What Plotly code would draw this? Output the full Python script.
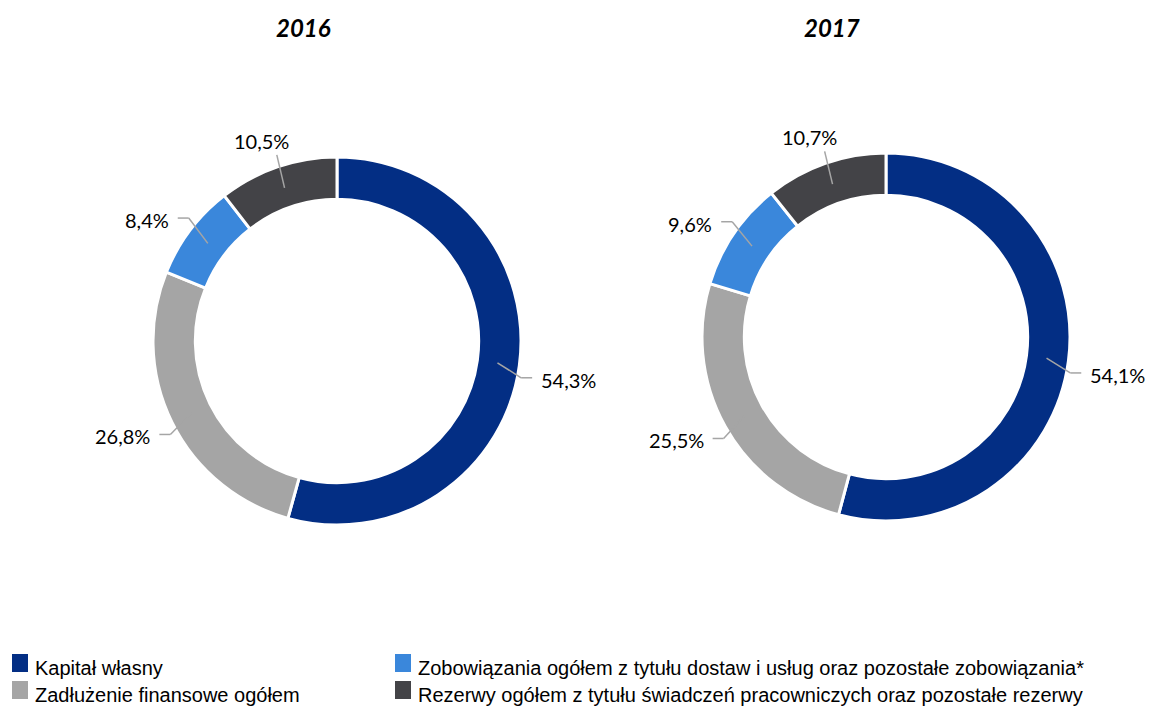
import math
import plotly.graph_objects as go

# Structure of financing (share of the balance sheet total, %)
categories = [
    "Kapitał własny",
    "Zadłużenie finansowe ogółem",
    "Zobowiązania ogółem z tytułu dostaw i usług oraz pozostałe zobowiązania*",
    "Rezerwy ogółem z tytułu świadczeń pracowniczych oraz pozostałe rezerwy",
]
years = ["2016", "2017"]
share_2016 = [54.3, 26.8, 8.4, 10.5]
share_2017 = [54.1, 25.5, 9.6, 10.7]

colors = ["#032E84", "#A5A5A5", "#3A87DB", "#434347"]

W, H = 1170, 708
R = 184                       # outer radius in px
centers = [(337, 341), (886, 337)]
title_pos = [(303, 28), (832, 28)]
label_font = dict(family="Lato, Calibri, sans-serif", size=20, color="#000000")


def px(x):
    return x / W


def py(y):
    return 1 - y / H


fig = go.Figure()
annotations = []
shapes = []

for year, values, (cx, cy), (tx, ty) in zip(years, [share_2016, share_2017], centers, title_pos):
    fig.add_trace(go.Pie(
        labels=categories,
        values=values,
        sort=False,
        direction="clockwise",
        rotation=0,
        hole=0.77,
        marker=dict(colors=colors, line=dict(color="white", width=3)),
        textinfo="none",
        hoverinfo="label+percent",
        showlegend=False,
        domain=dict(x=[px(cx - R), px(cx + R)], y=[py(cy + R), py(cy - R)]),
    ))
    annotations.append(dict(
        x=px(tx), y=py(ty), xref="paper", yref="paper", showarrow=False,
        text=f"<b><i>{year}</i></b>",
        font=dict(family="Lato, Calibri, sans-serif", size=24, color="#000000"),
        xanchor="center", yanchor="middle",
    ))

    # data labels with leader lines, placed at each slice's mid angle
    total = sum(values)
    cum = 0.0
    for v in values:
        theta = 2 * math.pi * (cum + v / 2) / total
        cum += v
        dx, dy = math.sin(theta), -math.cos(theta)
        side = 1 if dx >= 0 else -1
        vside = 1 if dy >= 0 else -1
        sx, sy = cx + 0.88 * R * dx, cy + 0.88 * R * dy
        ex, ey = cx + 1.01 * R * dx, cy + R * dy + 12 * vside
        line = dict(color="#A5A5A5", width=1.5)
        label = f"{v:.1f}%".replace(".", ",")
        shapes.append(dict(type="line", xref="paper", yref="paper",
                           x0=px(sx), y0=py(sy), x1=px(ex), y1=py(ey), line=line))
        if abs(dy) > 0.9:
            # near the top/bottom: label sits above/below the end of the line
            annotations.append(dict(
                x=px(ex - 15), y=py(ey + vside * 14), xref="paper", yref="paper",
                showarrow=False, text=label, font=label_font,
                xanchor="center", yanchor="middle",
            ))
            continue
        hx = ex + side * 11
        shapes.append(dict(type="line", xref="paper", yref="paper",
                           x0=px(ex), y0=py(ey), x1=px(hx), y1=py(ey), line=line))
        annotations.append(dict(
            x=px(hx + side * 7), y=py(ey + 2), xref="paper", yref="paper",
            showarrow=False, text=label, font=label_font,
            xanchor="left" if side > 0 else "right", yanchor="middle",
        ))

# legend: two columns, two rows
legend_slots = [(12, 663), (12, 690), (395, 663), (395, 690)]
legend_order = [0, 1, 2, 3]
for idx, (lx, ly) in zip(legend_order, legend_slots):
    shapes.append(dict(type="rect", xref="paper", yref="paper",
                       x0=px(lx), x1=px(lx + 16), y0=py(ly + 9), y1=py(ly - 9),
                       fillcolor=colors[idx], line=dict(width=0)))
    annotations.append(dict(
        x=px(lx + 21), y=py(ly + 5), xref="paper", yref="paper", showarrow=False,
        text=categories[idx],
        font=dict(family="Liberation Sans, Arial, sans-serif", size=20, color="#000000"),
        xanchor="left", yanchor="middle",
    ))

fig.update_layout(
    width=W, height=H,
    margin=dict(l=0, r=0, t=0, b=0),
    paper_bgcolor="white", plot_bgcolor="white",
    annotations=annotations,
    shapes=shapes,
)

fig.write_html("out.html")
